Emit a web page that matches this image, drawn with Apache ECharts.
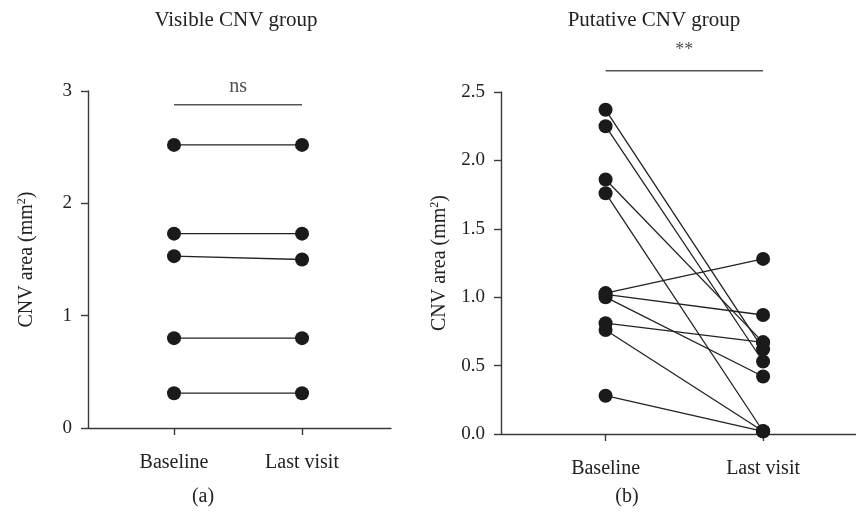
<!DOCTYPE html>
<html>
<head>
<meta charset="utf-8">
<script src="https://cdn.jsdelivr.net/npm/echarts@6/dist/echarts.min.js"></script>
<style>html,body{margin:0;padding:0;background:#fff}#c{width:856px;height:515px}</style>
</head>
<body>
<div id="c"></div>
<script>
// ---- data ----
const timepoints = ['Baseline', 'Last visit'];
const panelTitles = ['Visible CNV group', 'Putative CNV group'];
const panelLetters = ['(a)', '(b)'];
const sigLabels = ['ns', '**'];
const sigLevels = [2.877, 2.656];
const visibleBaseline = [2.52, 1.73, 1.53, 0.80, 0.31];
const visibleLast     = [2.52, 1.73, 1.50, 0.80, 0.31];
const putativeBaseline = [2.37, 2.25, 1.86, 1.76, 1.03, 1.02, 1.00, 0.81, 0.76, 0.28];
const putativeLast     = [0.62, 0.53, 0.67, 0.02, 1.28, 0.87, 0.42, 0.67, 0.02, 0.02];
const yMaxVisible = 3, yStepVisible = 1;
const yMaxPutative = 2.5, yStepPutative = 0.5;

// ---- styling ----
const FONT = 'Liberation Serif';
const TXT = '#222';
const AX = '#3a3a3a';

function xAxisFor(gridIndex, min, max) {
  return {
    type: 'value', gridIndex, min, max,
    axisLine: { show: true, lineStyle: { color: AX, width: 1.4 } },
    axisTick: { show: true, length: 7, customValues: [1, 2], lineStyle: { color: AX, width: 1.4 } },
    axisLabel: { customValues: [1, 2], margin: 25, fontFamily: FONT, fontSize: 20, color: TXT,
                 formatter: v => timepoints[Math.round(v) - 1] || '' },
    splitLine: { show: false }
  };
}
function yAxisFor(gridIndex, max, step, digits) {
  return {
    type: 'value', gridIndex, min: 0, max, interval: step,
    name: 'CNV area (mm{s|2})', nameLocation: 'middle', nameGap: 50, nameRotate: 90,
    nameTextStyle: { fontFamily: FONT, fontSize: 20, color: TXT,
                     rich: { s: { fontFamily: FONT, fontSize: 12, color: TXT, verticalAlign: 'top', padding: [0, 0, 10, 0] } } },
    axisLine: { show: true, lineStyle: { color: AX, width: 1.4 } },
    axisTick: { show: true, length: 7, lineStyle: { color: AX, width: 1.4 } },
    axisLabel: { margin: 16, fontFamily: FONT, fontSize: 19, color: TXT, formatter: v => v.toFixed(digits) },
    splitLine: { show: false }
  };
}

const series = [];
function addPairs(base, last, idx) {
  base.forEach((b, i) => {
    series.push({
      type: 'line', xAxisIndex: idx, yAxisIndex: idx,
      data: [[1, b], [2, last[i]]],
      symbol: 'circle', symbolSize: 14,
      itemStyle: { color: '#1a1a1a' },
      lineStyle: { color: '#222', width: 1.3 },
      emphasis: { disabled: true }, z: 3
    });
  });
}
addPairs(visibleBaseline, visibleLast, 0);
addPairs(putativeBaseline, putativeLast, 1);

[0, 1].forEach(idx => {
  series.push({
    type: 'line', xAxisIndex: idx, yAxisIndex: idx, clip: false,
    data: [[1, sigLevels[idx]], [2, sigLevels[idx]]],
    symbol: 'none', lineStyle: { color: '#555', width: 1.5 }, emphasis: { disabled: true }
  });
  series.push({
    type: 'scatter', xAxisIndex: idx, yAxisIndex: idx, clip: false,
    data: [[1.5, sigLevels[idx]]], symbolSize: 2, itemStyle: { color: 'rgba(0,0,0,0)' },
    label: { show: true, position: 'top', distance: idx === 0 ? 7 : 10, formatter: sigLabels[idx],
             fontFamily: FONT, fontSize: idx === 0 ? 20 : 18, color: TXT },
    emphasis: { disabled: true }
  });
});

const chart = echarts.init(document.getElementById('c'), null, { renderer: 'canvas' });
chart.setOption({
  animation: false,
  backgroundColor: '#fff',
  title: [
    { text: panelTitles[0], left: 231, top: 5, textAlign: 'center', textStyle: { fontFamily: FONT, fontSize: 21, fontWeight: 'normal', color: TXT } },
    { text: panelTitles[1], left: 649, top: 5, textAlign: 'center', textStyle: { fontFamily: FONT, fontSize: 21, fontWeight: 'normal', color: TXT } },
    { text: panelLetters[0], left: 198, top: 482, textAlign: 'center', textStyle: { fontFamily: FONT, fontSize: 20, fontWeight: 'normal', color: TXT } },
    { text: panelLetters[1], left: 622, top: 482, textAlign: 'center', textStyle: { fontFamily: FONT, fontSize: 20, fontWeight: 'normal', color: TXT } }
  ],
  grid: [
    { left: 88, top: 91, width: 303, height: 337 },
    { left: 501, top: 92, width: 355, height: 342 }
  ],
  xAxis: [xAxisFor(0, 0.328, 2.695), xAxisFor(1, 0.336, 2.59)],
  yAxis: [yAxisFor(0, yMaxVisible, yStepVisible, 0), yAxisFor(1, yMaxPutative, yStepPutative, 1)],
  series
});
</script>
</body>
</html>
